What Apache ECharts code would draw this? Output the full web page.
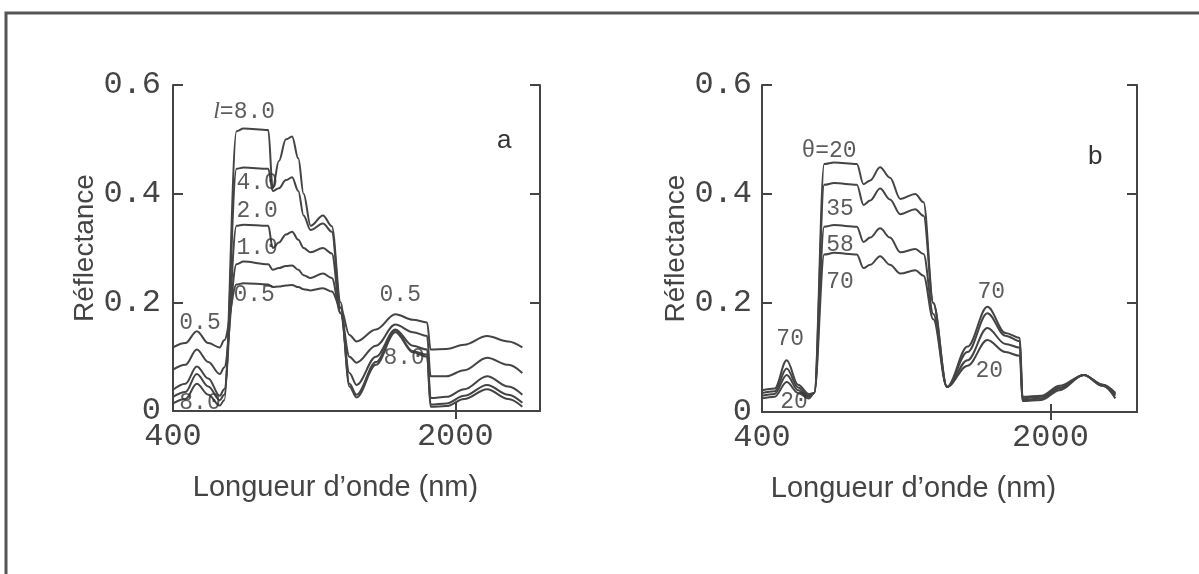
<!DOCTYPE html>
<html>
<head>
<meta charset="utf-8">
<script src="https://cdn.jsdelivr.net/npm/echarts@6/dist/echarts.min.js"></script>
<style>
    html, body { margin: 0; background: #fff; }
    #main { width: 1199px; height: 574px; }
</style>
</head>
<body>
<div id="main"></div>
<script>
// ---- panel a : LAI (l) ----
const wavelengthA = [400, 470, 535, 600, 665, 690, 760, 800, 940, 965, 1000, 1040, 1075, 1110, 1140, 1180, 1250, 1300, 1350, 1400, 1440, 1550, 1660, 1760, 1840, 1860, 1950, 2050, 2180, 2300, 2380];
const reflA_05 = [0.117, 0.125, 0.147, 0.125, 0.117, 0.13, 0.233, 0.235, 0.233, 0.228, 0.229, 0.231, 0.232, 0.228, 0.224, 0.222, 0.226, 0.22, 0.19, 0.14, 0.128, 0.15, 0.178, 0.168, 0.163, 0.113, 0.114, 0.122, 0.138, 0.128, 0.117];
const reflA_1 = [0.076, 0.085, 0.113, 0.09, 0.068, 0.08, 0.27, 0.275, 0.27, 0.26, 0.263, 0.267, 0.268, 0.26, 0.25, 0.245, 0.253, 0.245, 0.18, 0.1, 0.089, 0.12, 0.159, 0.145, 0.138, 0.064, 0.064, 0.075, 0.098, 0.085, 0.07];
const reflA_2 = [0.039, 0.05, 0.082, 0.06, 0.028, 0.04, 0.341, 0.343, 0.341, 0.30, 0.31, 0.325, 0.33, 0.315, 0.30, 0.292, 0.30, 0.29, 0.18, 0.07, 0.048, 0.1, 0.15, 0.12, 0.113, 0.024, 0.026, 0.04, 0.064, 0.045, 0.03];
const reflA_4 = [0.026, 0.035, 0.068, 0.045, 0.02, 0.03, 0.446, 0.448, 0.446, 0.405, 0.41, 0.425, 0.43, 0.405, 0.36, 0.333, 0.345, 0.33, 0.19, 0.05, 0.03, 0.09, 0.148, 0.11, 0.104, 0.012, 0.014, 0.028, 0.048, 0.03, 0.015];
const reflA_8 = [0.014, 0.022, 0.05, 0.03, 0.01, 0.02, 0.515, 0.52, 0.517, 0.41, 0.46, 0.50, 0.505, 0.465, 0.40, 0.341, 0.36, 0.34, 0.2, 0.045, 0.025, 0.085, 0.145, 0.108, 0.1, 0.008, 0.009, 0.022, 0.04, 0.022, 0.008];
// labels [wavelength, reflectance, text]
const labelsA = [
    [803, 0.55, 'l=8.0'], [877, 0.42, '4.0'], [877, 0.368, '2.0'], [877, 0.30, '1.0'],
    [860, 0.213, '0.5'], [553, 0.163, '0.5'], [553, 0.015, '8.0'],
    [1688, 0.213, '0.5'], [1710, 0.098, '8.0']
];

// ---- panel b : angle (θ) ----
const wavelengthB = [400, 470, 537, 600, 660, 690, 745, 800, 926, 963, 1000, 1055, 1110, 1167, 1250, 1296, 1350, 1426, 1540, 1650, 1750, 1830, 1845, 1950, 2050, 2185, 2290, 2360];
const reflB_20 = [0.025, 0.028, 0.055, 0.035, 0.025, 0.035, 0.455, 0.458, 0.455, 0.418, 0.425, 0.449, 0.43, 0.391, 0.40, 0.385, 0.2, 0.046, 0.085, 0.132, 0.11, 0.103, 0.02, 0.022, 0.04, 0.068, 0.048, 0.025];
const reflB_35 = [0.03, 0.033, 0.068, 0.04, 0.028, 0.035, 0.417, 0.42, 0.417, 0.38, 0.388, 0.41, 0.39, 0.363, 0.372, 0.36, 0.2, 0.046, 0.095, 0.154, 0.125, 0.118, 0.022, 0.025, 0.043, 0.068, 0.048, 0.03];
const reflB_58 = [0.035, 0.038, 0.08, 0.045, 0.03, 0.035, 0.34, 0.343, 0.34, 0.312, 0.32, 0.337, 0.32, 0.293, 0.299, 0.29, 0.18, 0.046, 0.11, 0.181, 0.14, 0.13, 0.025, 0.028, 0.045, 0.068, 0.05, 0.033];
const reflB_70 = [0.04, 0.043, 0.095, 0.05, 0.033, 0.035, 0.289, 0.292, 0.289, 0.264, 0.27, 0.286, 0.27, 0.254, 0.26, 0.25, 0.17, 0.046, 0.12, 0.193, 0.145, 0.136, 0.028, 0.03, 0.048, 0.068, 0.05, 0.035];
const labelsB = [
    [772, 0.479, 'θ=20'], [833, 0.372, '35'], [833, 0.306, '58'], [833, 0.238, '70'],
    [556, 0.134, '70'], [578, 0.018, '20'], [1672, 0.22, '70'], [1661, 0.075, '20']
];

const xTicks = [400, 2000];
const ink = '#444';

let myChart = echarts.init(document.getElementById('main'));

// one curve
function curve(wl, vals, idx) {
    return {
        type: 'line',
        xAxisIndex: idx, yAxisIndex: idx,
        data: wl.map((w, i) => [w, vals[i]]),
        showSymbol: false,
        smooth: 0.35,
        smoothMonotone: 'x',
        lineStyle: { color: ink, width: 2 },
        silent: true
    };
}

// text labels on the plot
function notes(list, idx) {
    return {
        type: 'scatter',
        xAxisIndex: idx, yAxisIndex: idx,
        data: list,
        symbolSize: 0,
        silent: true,
        z: 5,
        label: {
            show: true,
            position: 'inside',
            formatter: p => p.data[2].indexOf('l=') === 0 ? '{i|l}' + p.data[2].slice(1) : p.data[2],
            fontFamily: 'Liberation Mono',
            fontSize: 23,
            color: '#333',
            rich: { i: { fontFamily: 'Liberation Serif', fontStyle: 'italic', fontSize: 24, color: '#333' } }
        }
    };
}

function bottomAxis(idx, pad) {
    return {
        type: 'value', gridIndex: idx, min: 400, max: 2480,
        axisLine: { lineStyle: { color: ink, width: 2 } },
        axisTick: { inside: true, length: 8, customValues: xTicks, lineStyle: { color: ink, width: 2 } },
        axisLabel: { customValues: xTicks, formatter: v => String(v), fontFamily: 'Liberation Mono', fontSize: 32, color: ink, margin: 10 },
        splitLine: { show: false },
        name: 'Longueur d’onde (nm)',
        nameLocation: 'middle',
        nameGap: 62,
        nameTextStyle: { fontFamily: 'Liberation Sans', fontSize: 29, color: ink, padding: [0, pad, 0, 0] }
    };
}
function topAxis(idx) {
    return {
        type: 'value', gridIndex: idx, min: 400, max: 2480, position: 'top',
        axisLine: { lineStyle: { color: ink, width: 2 } },
        axisTick: { inside: true, length: 8, customValues: [2000], lineStyle: { color: ink, width: 2 } },
        axisLabel: { show: false },
        splitLine: { show: false }
    };
}
function leftAxis(idx, gap, margin) {
    return {
        type: 'value', gridIndex: idx, min: 0, max: 0.6, interval: 0.2,
        axisLine: { show: true, lineStyle: { color: ink, width: 2 } },
        axisTick: { show: true, inside: true, length: 10, lineStyle: { color: ink, width: 2 } },
        axisLabel: {
            formatter: v => v === 0 ? '0' : v.toFixed(1),
            fontFamily: 'Liberation Mono', fontSize: 32, color: ink, margin: margin
        },
        splitLine: { show: false },
        name: 'Réflectance',
        nameLocation: 'middle',
        nameGap: gap,
        nameTextStyle: { fontFamily: 'Liberation Sans', fontSize: 28, color: ink }
    };
}
function rightAxis(idx) {
    return {
        type: 'value', gridIndex: idx, min: 0, max: 0.6, interval: 0.2, position: 'right',
        axisLine: { show: true, lineStyle: { color: ink, width: 2 } },
        axisTick: { show: true, inside: true, length: 10, lineStyle: { color: ink, width: 2 } },
        axisLabel: { show: false },
        splitLine: { show: false }
    };
}

let option = {
    backgroundColor: '#fff',
    animation: false,
    grid: [
        { left: 173, top: 85, width: 367, height: 326 },
        { left: 762, top: 85, width: 375, height: 327 }
    ],
    xAxis: [bottomAxis(0, 42), bottomAxis(1, 72), topAxis(0), topAxis(1)],
    yAxis: [leftAxis(0, 68, 12), leftAxis(1, 66, 10), rightAxis(0), rightAxis(1)],
    graphic: [
        // outer frame
        { type: 'rect', shape: { x: 6, y: 13, width: 1300, height: 700 }, style: { fill: 'none', stroke: '#555', lineWidth: 3 }, silent: true },
        { type: 'text', left: 497, top: 128, style: { text: 'a', fontFamily: 'Liberation Sans', fontSize: 26, fill: '#333' } },
        { type: 'text', left: 1088, top: 144, style: { text: 'b', fontFamily: 'Liberation Sans', fontSize: 26, fill: '#333' } }
    ],
    series: [
        curve(wavelengthA, reflA_05, 0),
        curve(wavelengthA, reflA_1, 0),
        curve(wavelengthA, reflA_2, 0),
        curve(wavelengthA, reflA_4, 0),
        curve(wavelengthA, reflA_8, 0),
        notes(labelsA, 0),
        curve(wavelengthB, reflB_20, 1),
        curve(wavelengthB, reflB_35, 1),
        curve(wavelengthB, reflB_58, 1),
        curve(wavelengthB, reflB_70, 1),
        notes(labelsB, 1)
    ]
};
myChart.setOption(option);
</script>
</body>
</html>
